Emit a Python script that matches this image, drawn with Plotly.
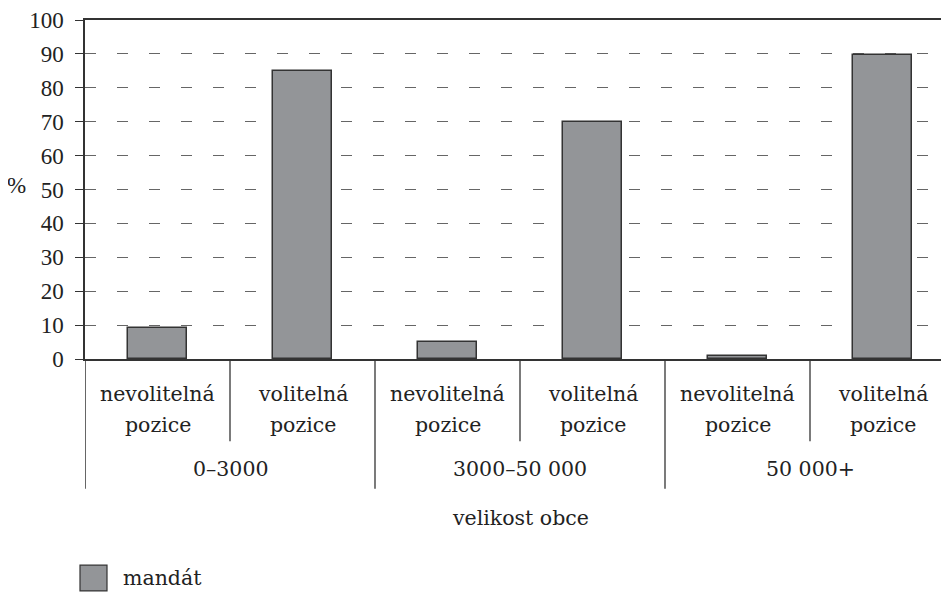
import plotly.graph_objects as go

# ---- data ----
groups = ["0–3000", "3000–50 000", "50 000+"]
positions = ["nevolitelná", "volitelná"]
position_line2 = "pozice"
values = [9, 85, 5, 70, 1, 89.6]
series_name = "mandát"
y_title = "%"
x_title = "velikost obce"
y_ticks = [0, 10, 20, 30, 40, 50, 60, 70, 80, 90, 100]

FONT = "DejaVu Serif"
FS = 20.5
TICK_FONT = "Liberation Serif"
TICK_FS = 23
DARK = "#333333"
BAR = "#939598"
TXT = "#222222"

OFF = 8  # page body margin
W, H = 949 - OFF, 594 - OFF
L, T = 85 - OFF, 17 - OFF
PLOT_BOTTOM = 359 - OFF
B = H - PLOT_BOTTOM
plot_w = W - L
plot_h = H - T - B
slot_px = 145.0


def py(p):
    """screen pixel y -> paper y"""
    return (PLOT_BOTTOM - (p - OFF)) / plot_h


def px(p):
    return ((p - OFF) - L) / plot_w


xs = list(range(len(values)))

fig = go.Figure()
fig.add_trace(go.Bar(
    x=xs, y=values, width=0.41, name=series_name,
    marker=dict(color=BAR, line=dict(color=DARK, width=1.5)),
    showlegend=False,
))

shapes = []
annotations = []


def fnt(family=FONT, size=FS):
    return dict(family=family, size=size, color=TXT)


for gi in range(len(groups)):
    inner = gi * 2 + 0.5
    shapes.append(dict(type="line", xref="x", yref="paper", x0=inner, x1=inner,
                       y0=0, y1=py(442), line=dict(color=DARK, width=1.3)))
    if gi > 0:
        gx = gi * 2 - 0.5
        shapes.append(dict(type="line", xref="x", yref="paper", x0=gx, x1=gx,
                           y0=0, y1=py(490), line=dict(color=DARK, width=1.3)))
shapes.append(dict(type="line", xref="x", yref="paper", x0=-0.5, x1=-0.5,
                   y0=0, y1=py(490), line=dict(color=DARK, width=1.5)))

for gi, g in enumerate(groups):
    for pi, p in enumerate(positions):
        xi = gi * 2 + pi
        annotations.append(dict(x=xi, y=py(394), xref="x", yref="paper", text=p,
                                showarrow=False, xanchor="center", yanchor="middle", font=fnt()))
        annotations.append(dict(x=xi, y=py(426), xref="x", yref="paper", text=position_line2,
                                showarrow=False, xanchor="center", yanchor="middle", font=fnt()))
    annotations.append(dict(x=gi * 2 + 0.5, y=py(470), xref="x", yref="paper", text=g,
                            showarrow=False, xanchor="center", yanchor="middle", font=fnt()))

annotations.append(dict(x=2.5, y=py(519), xref="x", yref="paper", text=x_title,
                        showarrow=False, xanchor="center", yanchor="middle", font=fnt()))
annotations.append(dict(x=px(16), y=py(184), xref="paper", yref="paper", text=y_title,
                        showarrow=False, xanchor="center", yanchor="middle",
                        font=fnt(TICK_FONT, TICK_FS)))

shapes.append(dict(type="rect", xref="paper", yref="paper",
                   x0=px(80), x1=px(107), y0=py(593), y1=py(567),
                   fillcolor=BAR, line=dict(color=DARK, width=1.2)))
annotations.append(dict(x=px(121), y=py(580), xref="paper", yref="paper", text=series_name,
                        showarrow=False, xanchor="left", yanchor="middle", font=fnt()))

fig.update_layout(
    width=W, height=H,
    margin=dict(l=L, r=0, t=T, b=B, pad=0),
    paper_bgcolor="white", plot_bgcolor="white",
    shapes=shapes, annotations=annotations,
    bargap=0,
)
fig.update_xaxes(
    range=[-0.5, -0.5 + plot_w / slot_px],
    showticklabels=False, showgrid=False, zeroline=False,
    showline=True, mirror=True, linecolor=DARK, linewidth=1.5, ticks="",
)
fig.update_yaxes(
    range=[0, 100], tickvals=y_ticks, ticktext=[str(v) for v in y_ticks],
    showgrid=True, gridcolor="#666666", gridwidth=1.3, griddash="11px,21px",
    zeroline=False, showline=True, linecolor=DARK, linewidth=1.5,
    ticks="outside", ticklen=8, tickcolor=DARK, tickwidth=1.3,
    ticklabelstandoff=7, ticklabeloverflow="allow",
    tickfont=fnt(TICK_FONT, TICK_FS),
)

fig.write_html("out.html")
